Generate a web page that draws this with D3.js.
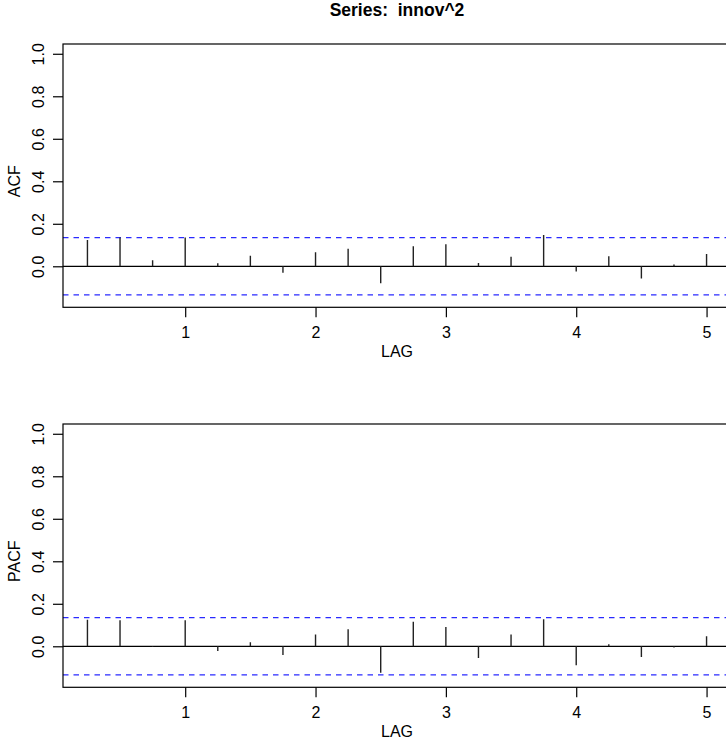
<!DOCTYPE html>
<html>
<head>
<meta charset="utf-8">
<script src="https://cdn.jsdelivr.net/npm/d3@7"></script>
<style>
  html, body { margin: 0; padding: 0; background: #fff; }
  svg { display: block; }
  text { font-family: "Liberation Sans", Arial, Helvetica, sans-serif; }
</style>
</head>
<body>
<svg id="chart" width="726" height="741"></svg>
<script>
// ---- data ----
const lags = [0.25, 0.5, 0.75, 1.0, 1.25, 1.5, 1.75, 2.0, 2.25, 2.5,
              2.75, 3.0, 3.25, 3.5, 3.75, 4.0, 4.25, 4.5, 4.75, 5.0];
const acfValues = [0.124, 0.135, 0.028, 0.136, 0.014, 0.049, -0.030, 0.066, 0.082, -0.080,
                   0.094, 0.104, 0.016, 0.045, 0.147, -0.025, 0.047, -0.058, 0.008, 0.058];
const pacfValues = [0.125, 0.122, -0.003, 0.122, -0.022, 0.019, -0.041, 0.055, 0.080, -0.125,
                    0.116, 0.091, -0.055, 0.056, 0.127, -0.089, 0.009, -0.050, -0.006, 0.047];
const confBound = 0.1348;
const xTicks = [1, 2, 3, 4, 5];
const yTicks = [0.0, 0.2, 0.4, 0.6, 0.8, 1.0];
const titleText = "Series:  innov^2";
const xLabel = "LAG";
const panelLabels = ["ACF", "PACF"];

// ---- layout ----
const svg = d3.select("#chart");
const plotLeft = 63, plotRight = 731;
const x = d3.scaleLinear().domain([0.0625, 5.1875]).range([plotLeft, plotRight]);
const yDomain = [-0.193, 1.046];

svg.append("text")
  .attr("x", 397).attr("y", 15.5)
  .attr("text-anchor", "middle")
  .attr("font-size", 17.5).attr("font-weight", "bold")
  .style("white-space", "pre")
  .text(titleText);

function panel(values, top, label) {
  const bottom = top + 263.3;
  const y = d3.scaleLinear().domain(yDomain).range([bottom, top]);
  const g = svg.append("g");

  const clipId = "clip-" + label;
  svg.append("clipPath").attr("id", clipId)
    .append("rect").attr("x", plotLeft).attr("y", top)
    .attr("width", plotRight - plotLeft).attr("height", bottom - top);

  const inner = g.append("g").attr("clip-path", `url(#${clipId})`);

  // zero line
  inner.append("line")
    .attr("x1", plotLeft).attr("x2", plotRight)
    .attr("y1", y(0)).attr("y2", y(0))
    .attr("stroke", "#000").attr("stroke-width", 1.2);

  // confidence bounds
  [confBound, -confBound].forEach(v => {
    inner.append("line")
      .attr("x1", plotLeft).attr("x2", plotRight)
      .attr("y1", y(v)).attr("y2", y(v))
      .attr("stroke", "#2a2aff").attr("stroke-width", 1.2)
      .attr("stroke-dasharray", "5.5,5");
  });

  // spikes
  inner.selectAll("line.spike").data(lags).enter().append("line")
    .attr("class", "spike")
    .attr("x1", d => x(d)).attr("x2", d => x(d))
    .attr("y1", y(0)).attr("y2", (d, i) => y(values[i]))
    .attr("stroke", "#222").attr("stroke-width", 1.4);

  // box
  g.append("rect")
    .attr("x", plotLeft).attr("y", top)
    .attr("width", plotRight - plotLeft).attr("height", bottom - top)
    .attr("fill", "none").attr("stroke", "#000").attr("stroke-width", 1.2);

  // x axis
  const xa = g.append("g").attr("transform", `translate(0,${bottom})`)
    .call(d3.axisBottom(x).tickValues(xTicks).tickSize(10).tickPadding(9).tickFormat(d3.format("d")));
  xa.select(".domain").remove();
  xa.selectAll("text").attr("font-size", 16).attr("fill", "#000");
  xa.selectAll("line").attr("stroke", "#000").attr("stroke-width", 1.2);

  // y axis
  const ya = g.append("g").attr("transform", `translate(${plotLeft},0)`)
    .call(d3.axisLeft(y).tickValues(yTicks).tickSize(10).tickFormat(d3.format(".1f")));
  ya.select(".domain").remove();
  ya.selectAll("line").attr("stroke", "#000").attr("stroke-width", 1.2);
  ya.selectAll("text")
    .attr("font-size", 16).attr("fill", "#000")
    .attr("text-anchor", "middle")
    .attr("x", 0).attr("dy", 0)
    .attr("transform", "translate(-19,0) rotate(-90)");

  // labels
  g.append("text")
    .attr("x", 397).attr("y", bottom + 50)
    .attr("text-anchor", "middle").attr("font-size", 16)
    .text(xLabel);
  g.append("text")
    .attr("transform", `translate(20,${y(0.4)}) rotate(-90)`)
    .attr("text-anchor", "middle").attr("font-size", 16)
    .text(label);
}

panel(acfValues, 44, panelLabels[0]);
panel(pacfValues, 424, panelLabels[1]);
</script>
</body>
</html>
